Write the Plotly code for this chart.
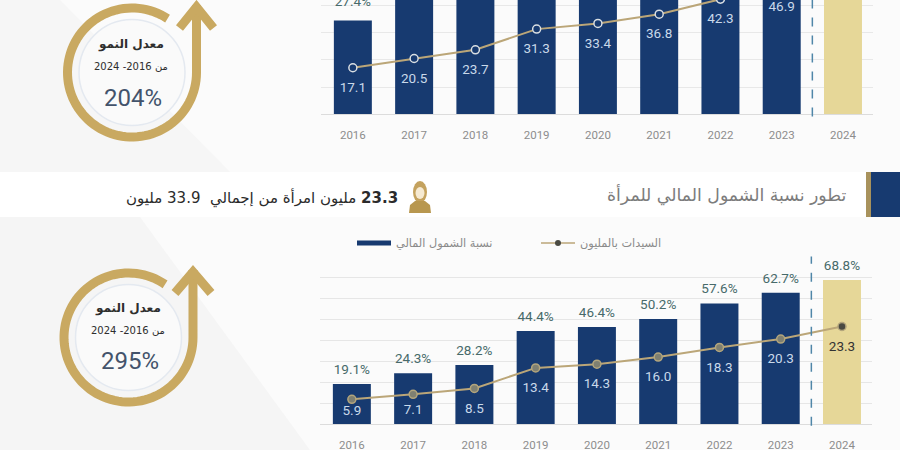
import numpy as np
import plotly.graph_objects as go

years = [2016, 2017, 2018, 2019, 2020, 2021, 2022, 2023, 2024]
# upper panel: the page crops it; only the first share is legible, the rest are estimates
top_share = [27.4, 34.0, 36.9, 47.0, 48.5, 56.2, 64.8, 70.1, 76.3]
top_share_labels = ["27.4%", "", "", "", "", "", "", "", ""]
top_women = [17.1, 20.5, 23.7, 31.3, 33.4, 36.8, 42.3, 46.9, 52.0]
top_women_labels = ["17.1", "20.5", "23.7", "31.3", "33.4", "36.8", "42.3", "46.9", ""]
# lower panel
low_share = [19.1, 24.3, 28.2, 44.4, 46.4, 50.2, 57.6, 62.7, 68.8]
low_share_labels = ["19.1%", "24.3%", "28.2%", "44.4%", "46.4%", "50.2%", "57.6%", "62.7%", "68.8%"]
low_women = [5.9, 7.1, 8.5, 13.4, 14.3, 16.0, 18.3, 20.3, 23.3]
low_women_labels = ["5.9", "7.1", "8.5", "13.4", "14.3", "16.0", "18.3", "20.3", "23.3"]

title_text = "تطور نسبة الشمول المالي للمرأة"
summary_text = "\u200f<b>23.3</b> مليون امرأة من إجمالي  33.9 مليون"
legend_bar = "نسبة الشمول المالي"
legend_line = "السيدات بالمليون"
growth_title = "معدل النمو"
growth_period = "من 2016- 2024"
growth_top = "204%"
growth_low = "295%"

NAVY = "#173a70"
SAND = "#e6d798"
GOLD = "#c9a961"
LINE = "#bba678"
W, H = 900, 450
AR = "DejaVu Sans, Noto Sans, sans-serif"
NUM = "Roboto, Arial, sans-serif"
px = lambda v: v / W
py = lambda v: 1 - v / H


def poly(points, close=True):
    s = "M" + " L".join(f"{px(a):.5f},{py(b):.5f}" for a, b in points)
    return s + (" Z" if close else "")


def area(points, color, layer="below"):
    return dict(type="path", xref="paper", yref="paper", path=poly(points), fillcolor=color,
                line=dict(width=0), layer=layer)


def disc(cx, cy, rx, ry, color):
    return dict(type="circle", xref="paper", yref="paper", x0=px(cx - rx), x1=px(cx + rx),
                y0=py(cy + ry), y1=py(cy - ry), fillcolor=color, line=dict(width=0), layer="below")


def gauge(cx, cy, r, end, tip_y, wing_y, wing_dx):
    start = np.arctan2(cy - end[1], end[0] - cx)
    t = np.linspace(start, 2 * np.pi, 90)
    ring = [(cx + r * np.cos(a), cy - r * np.sin(a)) for a in t]
    ring.append((cx + r, tip_y))
    tipx = cx + r
    stroke = dict(color=GOLD, width=9)
    return [
        dict(type="circle", xref="paper", yref="paper", x0=px(cx - 53), x1=px(cx + 53),
             y0=py(cy + 53), y1=py(cy - 53), fillcolor="#fafafa",
             line=dict(color="#e4e9f0", width=1.5), layer="below"),
        dict(type="path", xref="paper", yref="paper", path=poly(ring, False), line=stroke, layer="below"),
        dict(type="path", xref="paper", yref="paper",
             path=poly([(tipx - wing_dx, wing_y), (tipx, tip_y + 2), (tipx + wing_dx, wing_y)], False),
             line=stroke, layer="below"),
    ]


shapes = [
    area([(0, 0), (900, 0), (900, 172), (0, 172)], "#fbfbfb"),
    area([(0, 0), (60, 0), (230, 172), (0, 172)], "#f6f6f6"),
    area([(0, 217), (900, 217), (900, 450), (0, 450)], "#fbfbfb"),
    area([(0, 217), (140, 217), (310, 450), (0, 450)], "#f5f5f5"),
    area([(0, 172), (866, 172), (866, 217), (0, 217)], "#ffffff"),
    area([(866, 172), (871, 172), (871, 217), (866, 217)], "#a8925c"),
    area([(871, 172), (900, 172), (900, 217), (871, 217)], NAVY),
    # woman icon
    disc(420, 192, 7, 11, "#c4a25e"),
    area([(409, 213), (410, 205), (415, 201), (425, 201), (430, 205), (431, 213)], "#b8974f"),
    disc(420, 193, 4.5, 6, "#f6ead2"),
    # dashed dividers at the end of the observed series
    dict(type="line", xref="x", yref="y domain", x0=2023.5, x1=2023.5, y0=-0.02, y1=1,
         line=dict(color="#4f86a8", width=1.5, dash="dash")),
    dict(type="line", xref="x2", yref="y3 domain", x0=2023.5, x1=2023.5, y0=-0.01, y1=1,
         line=dict(color="#4f86a8", width=1.5, dash="dash")),
]
shapes += gauge(132, 72.5, 64.5, (168, 18), 5, 28, 17)
shapes += gauge(128.5, 337.5, 64.5, (166, 283), 270, 293, 18)


def note(x, y, text, size, color, font=AR, anchor="center"):
    return dict(xref="paper", yref="paper", x=px(x), y=py(y), text=text, showarrow=False,
                xanchor=anchor, yanchor="middle", font=dict(family=font, size=size, color=color))


annotations = [
    note(848, 195, title_text, 17.3, "#7c7c7c", anchor="right"),
    note(400, 198, summary_text, 15, "#2b2b2b", anchor="right"),
    note(131, 45, f"<b>{growth_title}</b>", 12, "#2e2e2e"),
    note(131, 67, growth_period, 10, "#2e2e2e"),
    note(133, 98, growth_top, 24, "#43536b", NUM),
    note(128, 308, f"<b>{growth_title}</b>", 12, "#2e2e2e"),
    note(128, 330, growth_period, 10, "#2e2e2e"),
    note(130, 361, growth_low, 24, "#43536b", NUM),
]

colors = [NAVY] * 8 + [SAND]
fig = go.Figure()


def panel(xa, ya, yb, share, share_labels, women, women_labels, fills, light, pct_gap, val_gaps):
    fig.add_trace(go.Bar(x=years, y=share, xaxis=xa, yaxis=ya, width=0.62, marker=dict(color=colors, line=dict(width=0)),
                         showlegend=False, hoverinfo="skip"))
    fig.add_trace(go.Scatter(x=years, y=women, xaxis=xa, yaxis=yb, mode="lines+markers", showlegend=False,
                             line=dict(color=LINE, width=2), hoverinfo="skip",
                             marker=dict(size=8, color=fills, line=dict(color=light, width=1.5))))
    fig.add_trace(go.Scatter(x=years, y=share, xaxis=xa, yaxis=ya, mode="markers+text", showlegend=False,
                             text=share_labels, textposition="top center",
                             marker=dict(size=pct_gap, color="rgba(0,0,0,0)", line=dict(width=0)), hoverinfo="skip",
                             textfont=dict(family=NUM, size=13.5, color="#476a6a")))
    fig.add_trace(go.Scatter(x=years, y=women, xaxis=xa, yaxis=yb, mode="markers+text", showlegend=False,
                             text=women_labels, textposition="bottom center",
                             marker=dict(size=val_gaps, color="rgba(0,0,0,0)", line=dict(width=0)), hoverinfo="skip",
                             textfont=dict(family=NUM, size=13.5, color=["#c9d9ea"] * 8 + ["#333333"])))


panel("x", "y", "y2", top_share, top_share_labels, top_women, top_women_labels, [NAVY] * 9, "#d9dee2", 17, [21] * 9)
panel("x2", "y3", "y4", low_share, low_share_labels, low_women, low_women_labels, ["#7f8072"] * 8 + ["#4a4a42"],
      "#b3a57c", 9, [7, 13, 21, 21, 21, 21, 21, 21, 21])

# legend entries
fig.add_trace(go.Scatter(x=[None], y=[None], xaxis="x2", yaxis="y3", mode="lines", name=legend_bar,
                         line=dict(color=NAVY, width=5)))
fig.add_trace(go.Scatter(x=[None], y=[None], xaxis="x2", yaxis="y4", mode="lines+markers", name=legend_line,
                         line=dict(color=LINE, width=1.5),
                         marker=dict(size=6, color="#4a4a42", line=dict(width=0))))

xbase = dict(tickmode="array", tickvals=years, ticktext=[str(y) for y in years], showgrid=False,
             zeroline=False, ticks="outside", ticklen=10, tickcolor="rgba(0,0,0,0)",
             tickfont=dict(family=NUM, size=11.5, color="#8d8d8d"), showline=True, linecolor="#dcdcdc", fixedrange=True)
yhide = dict(showticklabels=False, ticks="", zeroline=False, showline=False, fixedrange=True)

fig.update_layout(
    width=W, height=H, margin=dict(l=0, r=0, t=0, b=0, autoexpand=False),
    paper_bgcolor="#f8f8f8", plot_bgcolor="rgba(0,0,0,0)",
    barmode="overlay", shapes=shapes, annotations=annotations,
    xaxis=dict(xbase, domain=[px(321), px(873)], range=[2015.48, 2024.49], anchor="y"),
    yaxis=dict(yhide, domain=[py(114.3), 1], range=[0, 33.42], anchor="x", showgrid=False),
    yaxis2=dict(yhide, domain=[py(114.3), 1], range=[0, 42], overlaying="y", anchor="x", showgrid=True,
                dtick=10, gridcolor="#e8e8e8"),
    xaxis2=dict(xbase, domain=[px(320), px(872)], range=[2015.48, 2024.49], anchor="y3"),
    yaxis3=dict(yhide, domain=[py(424), py(256.6)], range=[0, 80], anchor="x2", showgrid=True,
                dtick=10, gridcolor="#e6e6e6"),
    yaxis4=dict(yhide, domain=[py(424), py(256.6)], range=[0, 40], overlaying="y3", anchor="x2", showgrid=False),
    legend=dict(orientation="h", x=px(352), y=py(243), xanchor="left", yanchor="middle",
                entrywidth=135, entrywidthmode="pixels", itemwidth=34, bgcolor="rgba(0,0,0,0)",
                font=dict(family=AR, size=11.3, color="#8a8a8a"), itemclick=False, itemdoubleclick=False),
)

fig.write_html("out.html", config=dict(displayModeBar=False),
               post_script="document.body.style.margin='0';document.body.style.overflow='hidden';")
